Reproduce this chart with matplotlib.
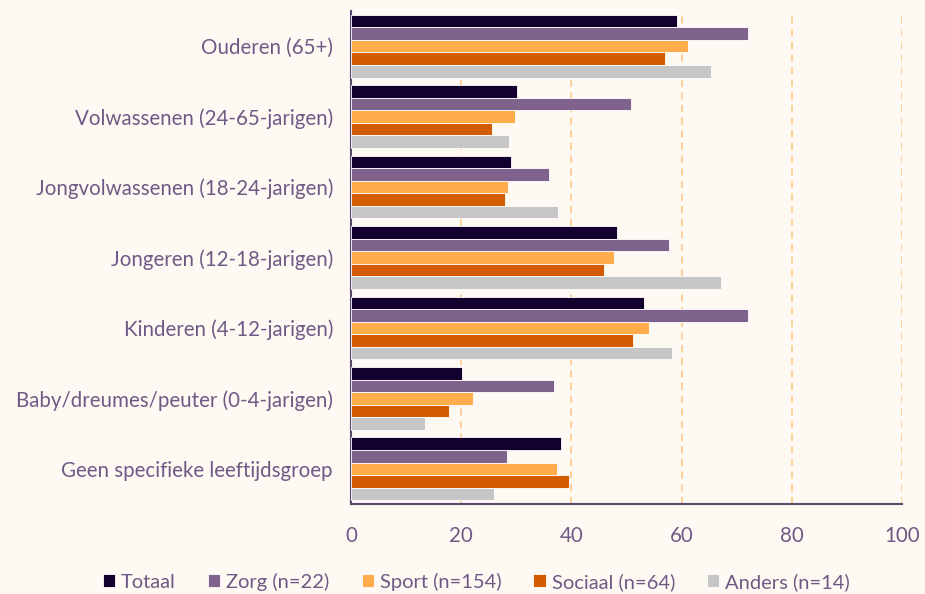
import numpy as np
import matplotlib.pyplot as plt

# age groups, top to bottom
groups = ['Ouderen (65+)', 'Volwassenen (24-65-jarigen)', 'Jongvolwassenen (18-24-jarigen)',
          'Jongeren (12-18-jarigen)', 'Kinderen (4-12-jarigen)',
          'Baby/dreumes/peuter (0-4-jarigen)', 'Geen specifieke leeftijdsgroep']

series = ['Totaal', 'Zorg (n=22)', 'Sport (n=154)', 'Sociaal (n=64)', 'Anders (n=14)']
totaal = [59.2, 30.1, 29.1, 48.2, 53.2, 20.1, 38.1]
zorg = [72.1, 50.9, 36.0, 57.7, 72.1, 36.9, 28.3]
sport = [61.1, 29.8, 28.5, 47.7, 54.0, 22.2, 37.3]
sociaal = [56.9, 25.6, 28.0, 46.0, 51.2, 17.8, 39.5]
anders = [65.4, 28.6, 37.6, 67.1, 58.2, 13.4, 25.9]
colors = ['#13002e', '#7f638d', '#ffad4b', '#d35c00', '#c6c6c6']

bg = '#fff9f3'
txt = '#6e5a85'

plt.rcParams['font.family'] = ['Lato', 'DejaVu Sans']

fig = plt.figure(figsize=(9.25, 5.94), dpi=100, facecolor=bg)
ax = fig.add_axes([351/925, 1 - 504/594, 551/925, 493/594], facecolor=bg)

y = np.arange(len(groups))
h = 0.178
for i, (name, vals) in enumerate(zip(series, [totaal, zorg, sport, sociaal, anders])):
    ax.barh(y - 2*h + i*h, vals, height=h, color=colors[i], label=name,
            edgecolor='white', linewidth=0.6, zorder=3)

ax.set_xlim(0, 100)
ax.set_ylim(6.5, -0.5)
ax.set_yticks(y)
ax.set_yticklabels(groups)
ax.set_xticks([0, 20, 40, 60, 80, 100])
ax.xaxis.grid(True, linestyle=(0, (4, 3)), color='#ffcc8f', linewidth=1.3, zorder=0)
ax.tick_params(length=0, labelsize=14.8, labelcolor=txt, pad=13)
ax.tick_params(axis='x', pad=16)
for s in ['top', 'right']:
    ax.spines[s].set_visible(False)
for s in ['left', 'bottom']:
    ax.spines[s].set_color('#5b4670')
    ax.spines[s].set_linewidth(1.5)

leg = fig.legend(loc='lower center', bbox_to_anchor=(0.515, -0.025), ncol=5, frameon=False,
                 fontsize=14.5, handlelength=0.6, handleheight=0.6, handletextpad=0.3,
                 columnspacing=1.6, labelcolor=txt)

fig.savefig('out.png', dpi=100, facecolor=bg)
